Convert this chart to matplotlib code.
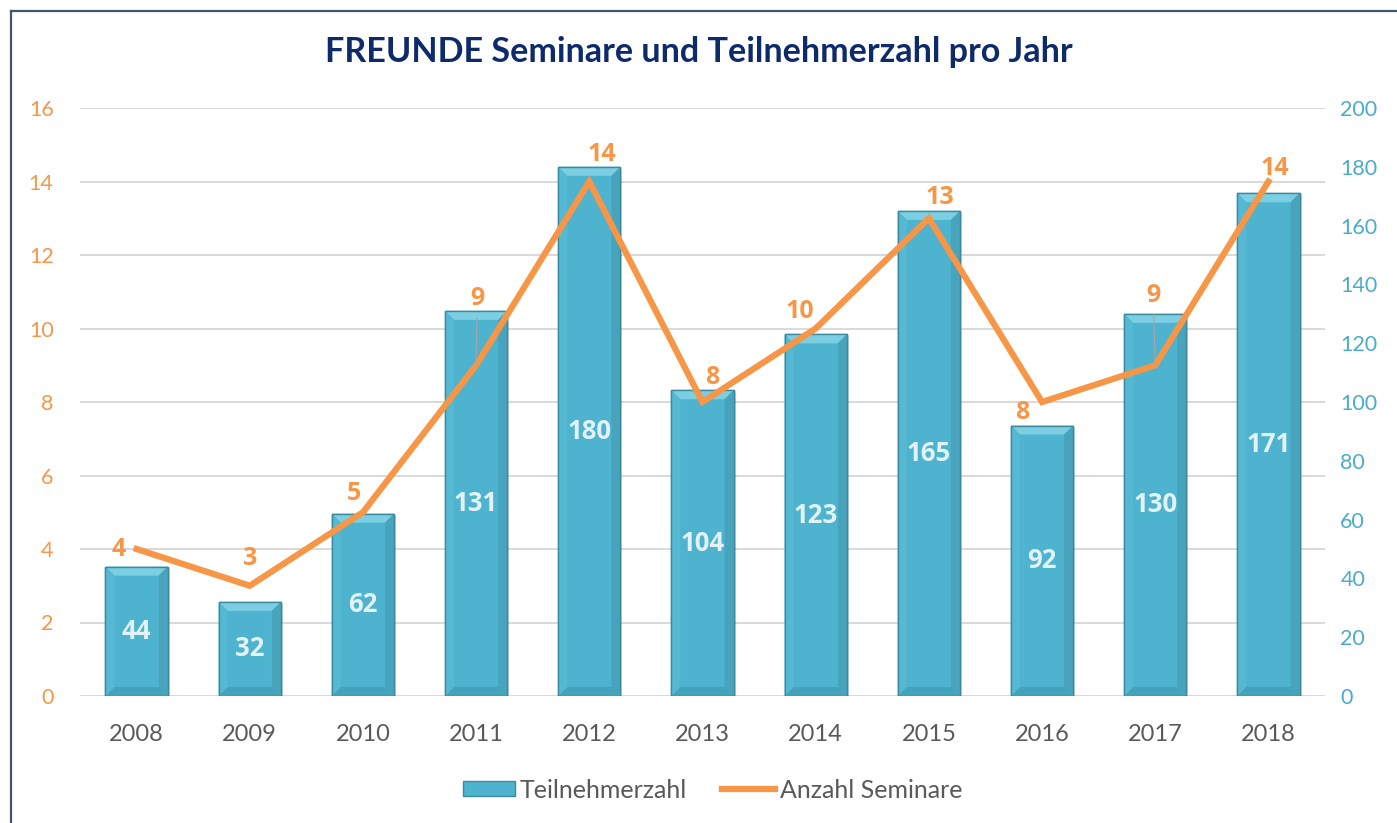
import matplotlib.pyplot as plt
from matplotlib.patches import Polygon, Rectangle
from matplotlib.lines import Line2D
from matplotlib.patches import Patch

plt.rcParams['font.family'] = ['Lato', 'DejaVu Sans']

years = ['2008', '2009', '2010', '2011', '2012', '2013', '2014', '2015', '2016', '2017', '2018']
teilnehmer = [44, 32, 62, 131, 180, 104, 123, 165, 92, 130, 171]
seminare = [4, 3, 5, 9, 14, 8, 10, 13, 8, 9, 14]

# label offsets for the line labels, in pixels (dx, dy)
label_offsets = [(-18, 0), (0, 27), (-9, 19), (1, 67), (12, 27), (10, 25),
                 (-16, 17), (11, 21), (-20, -10), (-2, 70), (6, 13)]

orange = '#F79646'
teal = '#4BACC6'
bar_col = '#4EB3CF'
label_font = ['Open Sans', 'DejaVu Sans']

W, H = 1397, 823
fig = plt.figure(figsize=(W / 100, H / 100), dpi=100)
ax_l, ax_r, ax_b, ax_t = 80, 1325, 696, 108
ax = fig.add_axes([ax_l / W, 1 - ax_b / H, (ax_r - ax_l) / W, (ax_b - ax_t) / H])
ax2 = ax.twinx()

x = list(range(len(years)))
left_max, right_max = 16, 200
ax.set_xlim(-0.5, len(years) - 0.5)
ax.set_ylim(0, right_max)
ax2.set_ylim(0, left_max)

# gridlines (left scale) drawn on the bar axis so they stay behind the bars
for v in range(0, left_max + 1, 2):
    ax.axhline(v * right_max / left_max, color='#d9d9d9', lw=1.4, zorder=0)

# bars with a simple bevel
bw = 0.55
px_x = (len(years)) / (ax_r - ax_l)
px_y = right_max / (ax_b - ax_t)
bx, by = 9 * px_x, 9 * px_y
for xi, h in zip(x, teilnehmer):
    x0, x1 = xi - bw / 2, xi + bw / 2
    # shadow
    ax.add_patch(Rectangle((x0 + 2 * px_x, -2 * px_y), bw, h, color='#000000', alpha=0.12, lw=0, zorder=1))
    ax.add_patch(Rectangle((x0, 0), bw, h, facecolor=bar_col, edgecolor='#3b8aa0', lw=1.0, zorder=2))
    ax.add_patch(Polygon([(x0, h), (x1, h), (x1 - bx, h - by), (x0 + bx, h - by)],
                         closed=True, facecolor='#7ccfe2', lw=0, zorder=3))
    ax.add_patch(Polygon([(x0, 0), (x1, 0), (x1 - bx, by), (x0 + bx, by)],
                         closed=True, facecolor='#44a3bc', lw=0, zorder=3))
    ax.add_patch(Polygon([(x0, 0), (x0 + bx, by), (x0 + bx, h - by), (x0, h)],
                         closed=True, facecolor='#56b9d3', lw=0, zorder=3))
    ax.add_patch(Polygon([(x1, 0), (x1 - bx, by), (x1 - bx, h - by), (x1, h)],
                         closed=True, facecolor='#48a3bc', lw=0, zorder=3))
    ax.add_patch(Rectangle((x0, 0), bw, h, facecolor='none', edgecolor='#3b8aa0', lw=1.0, zorder=4))
    ax.text(xi, h / 2, str(h), ha='center', va='center', color='#e2f2f6',
            fontsize=18.5, fontweight='bold', family=label_font, zorder=5)

# line
ax2.plot(x, seminare, color=orange, lw=4.5, solid_joinstyle='miter', zorder=5)
for xi, v, (dx, dy) in zip(x, seminare, label_offsets):
    props = None
    if dy > 50:
        props = dict(arrowstyle='-', color='#a6a6a6', lw=0.8, shrinkA=3, shrinkB=0)
    ax2.annotate(str(v), (xi, v), xytext=(dx, dy), textcoords='offset pixels',
                 ha='center', va='center', color=orange, fontsize=18, fontweight='bold',
                 family=label_font, arrowprops=props, zorder=6)

# axes styling
ax.yaxis.tick_right()
ax2.yaxis.tick_left()
ax.set_yticks(range(0, right_max + 1, 20))
ax2.set_yticks(range(0, left_max + 1, 2))
ax.set_xticks(x)
ax.set_xticklabels(years)
ax.tick_params(axis='x', length=0, pad=20, labelsize=17, labelcolor='#595959')
ax.tick_params(axis='y', length=0, pad=11, labelsize=15.5, labelcolor=teal)
ax2.tick_params(axis='y', length=0, pad=19, labelsize=15.5, labelcolor=orange)
for a in (ax, ax2):
    for s in a.spines.values():
        s.set_visible(False)
ax.set_zorder(1)
ax2.set_zorder(2)
ax.patch.set_visible(False)
ax2.patch.set_visible(False)

fig.text(0.5, 1 - 52 / H, 'FREUNDE Seminare und Teilnehmerzahl pro Jahr', ha='center', va='center',
         fontsize=24.6, fontweight='bold', color='#0d2a6b')

handles = [Patch(facecolor=bar_col, edgecolor='#3b8aa0'), Line2D([0], [0], color=orange, lw=4.5)]
fig.legend(handles, ['Teilnehmerzahl', 'Anzahl Seminare'], loc='center',
           bbox_to_anchor=(712.5 / W, 1 - 790 / H),
           ncol=2, frameon=False, fontsize=18, labelcolor='#595959', handlelength=2.1,
           handleheight=0.55, handletextpad=0.2, columnspacing=1.4)

# outer frame (only left and top edges visible in the crop)
fig.add_artist(Line2D([11 / W, 11 / W], [0, 1 - 11 / H], color='#44546a', lw=1.6, transform=fig.transFigure))
fig.add_artist(Line2D([11 / W, 1], [1 - 11 / H, 1 - 11 / H], color='#44546a', lw=1.6, transform=fig.transFigure))

fig.savefig('out.png', dpi=100)
